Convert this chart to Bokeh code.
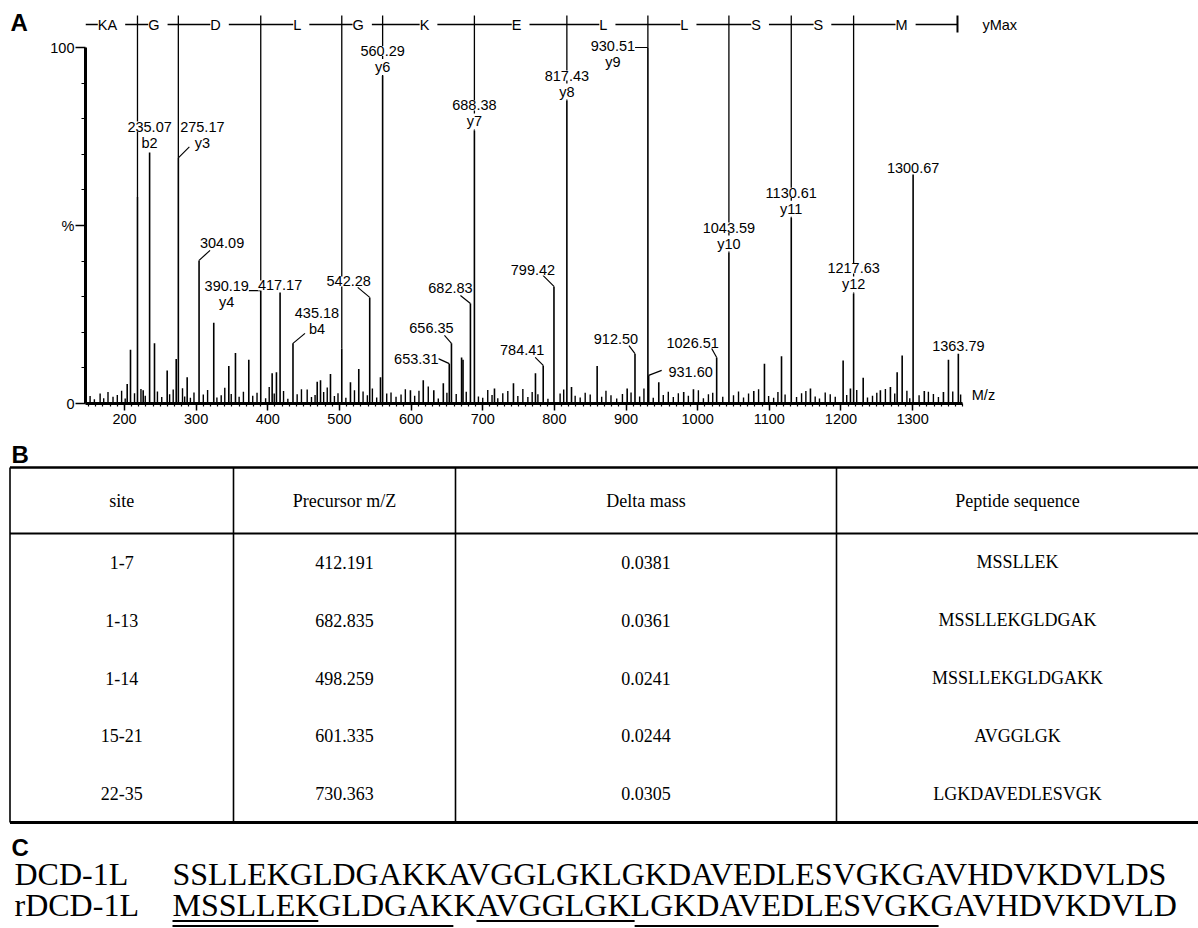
from bokeh.plotting import figure
from bokeh.models import ColumnDataSource, LabelSet, Label, Range1d, FixedTicker
from bokeh.layouts import column, row
from bokeh.embed import file_html
from bokeh.resources import INLINE
from bokeh.core.properties import value

SANS = "Liberation Sans"
SERIF = "Liberation Serif"

# ---------------- data: panel A (MS/MS spectrum) ----------------
# y-ion ladder boundaries (m/z) and residues written on the ladder
ladder_mz = [218.15, 275.17, 390.19, 503.28, 560.29, 688.38, 817.43, 930.51,
             1043.59, 1130.61, 1217.63]
ladder_end_mz = 1362.6
ladder_letters = ["KA", "G", "D", "L", "G", "K", "E", "L", "L", "S", "S", "M"]

# labelled peaks (m/z, relative intensity %) and ion names
lab_mz = [235.07, 275.17, 304.09, 390.19, 417.17, 435.18, 542.28, 560.29,
          653.31, 656.35, 682.83, 688.38, 784.41, 799.42, 817.43, 912.50,
          930.51, 931.60, 1026.51, 1043.59, 1130.61, 1217.63, 1300.67, 1363.79]
lab_pct = [70.5, 69.0, 40.2, 31.7, 31.2, 16.9, 29.8, 92.0,
           11.2, 16.9, 28.1, 76.7, 10.7, 32.9, 85.1, 14.0,
           100.0, 7.9, 12.9, 42.4, 52.2, 30.9, 64.3, 14.0]
lab_ion = ["b2", "y3", "", "y4", "", "b4", "", "y6",
           "", "", "", "y7", "", "", "y8", "",
           "y9", "", "", "y10", "y11", "y12", "", ""]

# other visible peaks without labels
minor_mz = [203.8, 208.4, 218.15, 226.1, 241.9, 259.6, 272.2, 287.5, 324.6, 345.6,
            354.9, 373.5, 406.1, 412.1, 469.0, 473.6, 487.5, 503.28, 515.4, 527.0,
            557.3, 599.1, 617.0, 631.7, 645.0, 670.5, 672.5, 716.4, 742.9, 773.6,
            823.9, 859.7, 901.6, 945.7, 980.5, 994.1, 1078.3, 1093.2, 1117.0, 1157.4,
            1203.0, 1213.2, 1231.0, 1255.0, 1269.0, 1278.4, 1285.4, 1316.3, 1343.0, 1350.0]
minor_pct = [5.5, 15.1, 58.0, 3.7, 16.9, 9.3, 12.5, 7.4, 22.7, 10.5,
             14.2, 12.3, 8.5, 8.8, 6.1, 6.5, 8.3, 15.4, 6.0, 9.7,
             7.4, 3.7, 6.5, 3.7, 5.7, 12.9, 12.3, 4.2, 5.7, 8.5,
             4.6, 10.5, 4.2, 6.0, 3.2, 4.0, 3.5, 11.2, 13.3, 4.2,
             12.1, 4.2, 7.2, 3.7, 4.6, 8.8, 13.5, 3.5, 3.2, 12.3]

# baseline noise peaks
noise_mz = [152, 158, 166, 171, 177, 184, 190, 196, 201, 214, 223, 229, 246, 252, 263,
            268, 281, 284, 292, 297, 310, 316, 329, 335, 340, 349, 360, 366, 379, 385,
            397, 402, 409, 422, 428, 441, 447, 455, 461, 466, 478, 483, 493, 498, 509,
            521, 533, 539, 546, 552, 566, 572, 579, 586, 592, 605, 611, 624, 638, 650,
            663, 677, 694, 700, 707, 713, 721, 728, 735, 749, 756, 763, 769, 777, 791,
            808, 813, 829, 836, 843, 850, 866, 872, 879, 887, 895, 907, 919, 925, 938,
            952, 959, 966, 973, 987, 1001, 1008, 1015, 1021, 1035, 1050, 1057, 1064, 1071, 1085,
            1099, 1106, 1112, 1122, 1138, 1145, 1151, 1164, 1170, 1178, 1185, 1192, 1208, 1222, 1237,
            1244, 1250, 1262, 1275, 1292, 1296, 1309, 1322, 1329, 1336, 1356, 1367]
noise_pct = [2.1, 1.2, 2.8, 1.5, 3.2, 1.9, 2.4, 3.6, 1.4, 2.9, 4.1, 2.2, 3.4, 1.8, 2.6,
             3.9, 4.3, 2.0, 1.6, 3.1, 2.5, 3.8, 1.7, 2.3, 4.4, 2.7, 1.9, 3.3, 2.2, 3.0,
             1.5, 4.6, 2.8, 3.5, 1.3, 2.6, 4.0, 3.9, 1.8, 2.4, 3.2, 4.5, 2.1, 2.9, 1.6,
             3.7, 3.4, 2.3, 4.2, 1.7, 2.8, 3.1, 1.9, 2.5, 4.0, 2.2, 3.6, 4.8, 1.4, 3.0,
             2.7, 3.3, 2.0, 1.6, 3.8, 2.4, 1.5, 2.9, 3.5, 2.1, 4.1, 1.8, 3.2, 2.6, 1.3,
             2.8, 3.9, 2.2, 1.7, 3.0, 2.5, 1.9, 3.6, 2.3, 1.4, 2.7, 3.1, 2.0, 4.2, 1.6,
             2.4, 3.3, 1.8, 2.9, 2.2, 3.7, 1.5, 2.6, 3.0, 1.9, 2.3, 3.4, 1.7, 2.8, 4.0,
             2.1, 1.6, 3.2, 2.5, 1.8, 2.9, 3.5, 2.0, 1.4, 3.1, 2.6, 1.9, 2.4, 3.8, 1.7,
             2.2, 3.0, 4.1, 2.8, 3.6, 1.5, 2.3, 3.3, 2.7, 1.8, 3.4, 2.5]

x_ticks = [200, 300, 400, 500, 600, 700, 800, 900, 1000, 1100, 1200, 1300]
y_ticks = [0, 50, 100]
y_tick_text = {0: "0", 50: "%", 100: "100"}

# ---------------- data: panel B (table) ----------------
headers = ["site", "Precursor m/Z", "Delta mass", "Peptide sequence"]
sites = ["1-7", "1-13", "1-14", "15-21", "22-35"]
precursor = [412.191, 682.835, 498.259, 601.335, 730.363]
delta_mass = [0.0381, 0.0361, 0.0241, 0.0244, 0.0305]
peptides = ["MSSLLEK", "MSSLLEKGLDGAK", "MSSLLEKGLDGAKK", "AVGGLGK", "LGKDAVEDLESVGK"]

# ---------------- data: panel C (sequences, visible part) ----------------
seq_names = ["DCD-1L", "rDCD-1L"]
seq_text = ["SSLLEKGLDGAKKAVGGLGKLGKDAVEDLESVGKGAVHDVKDVLDS",
            "MSSLLEKGLDGAKKAVGGLGKLGKDAVEDLESVGKGAVHDVKDVLD"]
underline_sites = ["1-7", "15-21", "1-13", "22-35"]
underline_level = [0, 0, 1, 1]

# ---------------- layout constants ----------------
PAGE_W = 1198
HA = 440
HB = 488
LAB_W = 28
FA_W = PAGE_W - LAB_W
FA_LEFT = 57
FA_BOTTOM = 37
PX_PER_MZ = 0.7165
PX_PER_PCT = 3.56
frame_w = FA_W - FA_LEFT
frame_h = HA - FA_BOTTOM
X0 = 145.6
X1 = X0 + frame_w / PX_PER_MZ
Y0 = 0.0
Y1 = frame_h / PX_PER_PCT
AX_END = 1370.0
kx = PX_PER_MZ
ky = PX_PER_PCT
FS = "14.5px"

# label placement (pixels, relative to peak top)
lab_dx = [0, 24, 23, -34, 0, 24, -21, 0, -33, -20, -20, 0, -21, -21, 0, -19,
          -35, 42, -24, 0, 0, 0, 0, 0]
lab_dy = [26, 31, 17, 5, 7, 30, 16, 25, 5, 15, 15, 25, 15, 16, 25, 15,
          2, 3, 15, 25, 25, 25, 7, 8]
lead_dx = [0, 11, 11, -12, 0, 12, -12, 0, -11, -7, -10, 0, -8, -11, 0, -6,
           -13, 13, -5, 0, 0, 0, 0, 0]
lead_dy = [0, 11, 10, 0, 0, 10, 10, 0, 5, 8, 8, 0, 8, 11, 0, 8,
           0, 5, 9, 0, 0, 0, 0, 0]
BAR_Y = (frame_h - 24) / PX_PER_PCT
TICK_TOP = (frame_h - 15) / PX_PER_PCT
END_TICK_BOTTOM = (frame_h - 32) / PX_PER_PCT


def style(p):
    p.xgrid.visible = False
    p.ygrid.visible = False
    p.outline_line_color = None
    p.background_fill_color = "white"
    p.border_fill_color = "white"


# ---------------- panel A label ----------------
pl = figure(width=LAB_W, height=HA, x_range=Range1d(0, LAB_W), y_range=Range1d(HA, 0),
            min_border=0, x_axis_location=None, y_axis_location=None,
            output_backend="svg", toolbar_location=None)
style(pl)
pl.text(x=[10], y=[23.5], text=["A"], text_font=value(SANS), text_font_style="bold",
        text_font_size="24px", text_baseline="middle", text_align="left", text_color="black")

# ---------------- panel A spectrum ----------------
pa = figure(width=FA_W, height=HA, x_range=Range1d(X0, X1), y_range=Range1d(Y0, Y1),
            output_backend="svg", toolbar_location=None,
            min_border_left=FA_LEFT, min_border_right=0, min_border_top=0,
            min_border_bottom=FA_BOTTOM)
style(pa)

xa = pa.xaxis[0]
xa.ticker = FixedTicker(ticks=x_ticks, minor_ticks=list(range(150, 1371, 10)))
xa.bounds = (X0, AX_END)
xa.axis_line_width = 3
xa.axis_line_color = "black"
xa.major_tick_line_width = 1.5
xa.minor_tick_line_width = 1.2
xa.major_tick_out = 7
xa.major_tick_in = 0
xa.minor_tick_out = 3
xa.minor_tick_in = 0
xa.major_label_standoff = 3
xa.major_label_text_font = SANS
xa.major_label_text_font_size = FS
xa.major_label_text_color = "black"

ya = pa.yaxis[0]
ya.ticker = FixedTicker(ticks=y_ticks, minor_ticks=[10, 20, 30, 40, 60, 70, 80, 90])
ya.bounds = (0, 100)
ya.major_label_overrides = y_tick_text
ya.axis_line_width = 3
ya.axis_line_color = "black"
ya.major_tick_line_width = 1.5
ya.minor_tick_line_width = 1.2
ya.major_tick_out = 10
ya.major_tick_in = 0
ya.minor_tick_out = 4
ya.minor_tick_in = 0
ya.major_label_standoff = 1
ya.major_label_text_font = SANS
ya.major_label_text_font_size = FS
ya.major_label_text_color = "black"

# noise and peaks
pa.segment(x0="mz", y0=0, x1="mz", y1="pct",
           source=ColumnDataSource(dict(mz=noise_mz, pct=noise_pct)),
           line_color="black", line_width=1.4)
pa.segment(x0="mz", y0=0, x1="mz", y1="pct",
           source=ColumnDataSource(dict(mz=lab_mz + minor_mz, pct=lab_pct + minor_pct)),
           line_color="black", line_width=1.6)

# ion ladder
peak_lookup = dict(zip(lab_mz + minor_mz, lab_pct + minor_pct))
pa.segment(x0=ladder_mz, y0=[TICK_TOP] * len(ladder_mz), x1=ladder_mz,
           y1=[peak_lookup[m] for m in ladder_mz], line_color="black", line_width=1.3)
pa.segment(x0=[X0], y0=[BAR_Y], x1=[ladder_end_mz], y1=[BAR_Y], line_color="black", line_width=1.5)
pa.segment(x0=[ladder_end_mz], y0=[END_TICK_BOTTOM], x1=[ladder_end_mz], y1=[TICK_TOP],
           line_color="black", line_width=2)
bnds = [X0] + ladder_mz + [ladder_end_mz]
mids = [(bnds[i] + bnds[i + 1]) / 2 for i in range(len(ladder_letters))]
pa.add_layout(LabelSet(x="x", y="y", text="t",
                       source=ColumnDataSource(dict(x=mids, y=[BAR_Y] * len(mids),
                                                    t=[" %s " % s for s in ladder_letters])),
                       text_align="center", text_baseline="middle",
                       text_font=value(SANS), text_font_size=FS, text_color="black",
                       background_fill_color="white", background_fill_alpha=1.0))
pa.add_layout(Label(x=ladder_end_mz, y=BAR_Y, x_offset=25, text="yMax", text_align="left",
                    text_baseline="middle", text_font=SANS, text_font_size=FS, text_color="black"))

# leader lines
lx1 = [m + d / kx for m, d in zip(lab_mz, lead_dx)]
ly1 = [v + d / ky for v, d in zip(lab_pct, lead_dy)]
pa.segment(x0=lab_mz, y0=lab_pct, x1=lx1, y1=ly1, line_color="black", line_width=1.2)

# peak labels
pa.add_layout(LabelSet(x="x", y="y", text="t", x_offset="dx", y_offset="dy",
                       source=ColumnDataSource(dict(x=lab_mz, y=lab_pct,
                                                    t=["%.2f" % m for m in lab_mz],
                                                    dx=lab_dx, dy=lab_dy)),
                       text_align="center", text_baseline="middle",
                       text_font=value(SANS), text_font_size=FS, text_color="black",
                       background_fill_color="white", background_fill_alpha=1.0))
ion_idx = [i for i, s in enumerate(lab_ion) if s]
pa.add_layout(LabelSet(x="x", y="y", text="t", x_offset="dx", y_offset="dy",
                       source=ColumnDataSource(dict(x=[lab_mz[i] for i in ion_idx],
                                                    y=[lab_pct[i] for i in ion_idx],
                                                    t=[lab_ion[i] for i in ion_idx],
                                                    dx=[lab_dx[i] for i in ion_idx],
                                                    dy=[lab_dy[i] - 16 for i in ion_idx])),
                       text_align="center", text_baseline="middle",
                       text_font=value(SANS), text_font_size=FS, text_color="black",
                       background_fill_color="white", background_fill_alpha=1.0))
pa.add_layout(Label(x=AX_END, y=0, x_offset=9, y_offset=1, text="M/z", text_align="left",
                    text_baseline="bottom", text_font=SANS, text_font_size=FS, text_color="black"))

# ---------------- panels B and C ----------------
top = HA
pb = figure(width=PAGE_W, height=HB, x_range=Range1d(0, PAGE_W),
            y_range=Range1d(top + HB, top), min_border=0,
            x_axis_location=None, y_axis_location=None,
            output_backend="svg", toolbar_location=None)
style(pb)

pb.text(x=[11, 11], y=[454, 847], text=["B", "C"], text_font=value(SANS),
        text_font_style="bold", text_font_size="24px", text_baseline="middle",
        text_align="left", text_color="black")

TAB_T, TAB_H, TAB_B = 467, 533, 822
TAB_L, TAB_R = 9.5, 1198
col_edges = [TAB_L, 233, 455, 836, TAB_R]
pb.segment(x0=[TAB_L] * 3, y0=[TAB_T, TAB_H, TAB_B], x1=[TAB_R] * 3, y1=[TAB_T, TAB_H, TAB_B],
           line_color="black", line_width=[2.5, 2.2, 3])
pb.segment(x0=col_edges[:4], y0=[TAB_T] * 4, x1=col_edges[:4], y1=[TAB_B] * 4,
           line_color="black", line_width=1.6)
col_c = [(col_edges[i] + col_edges[i + 1]) / 2 for i in range(4)]
pb.text(x=col_c, y=[(TAB_T + TAB_H) / 2] * 4, text=headers, text_font=value(SERIF),
        text_font_size="18px", text_align="center", text_baseline="middle", text_color="black")
pitch = (TAB_B - TAB_H) / len(sites)
row_c = [TAB_H + pitch * (i + 0.5) for i in range(len(sites))]
cols = [sites, ["%.3f" % v for v in precursor], ["%.4f" % v for v in delta_mass], peptides]
for ci, vals in enumerate(cols):
    pb.text(x=[col_c[ci]] * len(vals), y=row_c, text=vals, text_font=value(SERIF),
            text_font_size="18px", text_align="center", text_baseline="middle",
            text_color="black")

# sequences
SEQ_FS = 32
SEQ_X = 172
mid_y = [873, 904]
pb.text(x=[14, 14], y=mid_y, text=seq_names, text_font=value(SERIF),
        text_font_size="%dpx" % SEQ_FS, text_align="left", text_baseline="middle",
        text_color="black")
pb.text(x=[SEQ_X, SEQ_X], y=mid_y, text=seq_text, text_font=value(SERIF),
        text_font_size="%dpx" % SEQ_FS, text_align="left", text_baseline="middle",
        text_color="black")

times_w = {"A": .722, "C": .667, "D": .722, "E": .611, "G": .722, "H": .722, "K": .722,
           "L": .611, "M": .889, "S": .556, "V": .722}


def xpos(n):
    return SEQ_X + sum(times_w[c] for c in seq_text[1][:n]) * SEQ_FS


ux0, ux1, uy = [], [], []
for s, lev in zip(underline_sites, underline_level):
    a, b = [int(v) for v in s.split("-")]
    ux0.append(xpos(a - 1))
    ux1.append(xpos(b))
    uy.append(920.5 + 5 * lev)
pb.segment(x0=ux0, y0=uy, x1=ux1, y1=uy, line_color="black", line_width=2)

layout = column(row(pl, pa), pb)
open("out.html", "w").write(file_html(layout, INLINE))
